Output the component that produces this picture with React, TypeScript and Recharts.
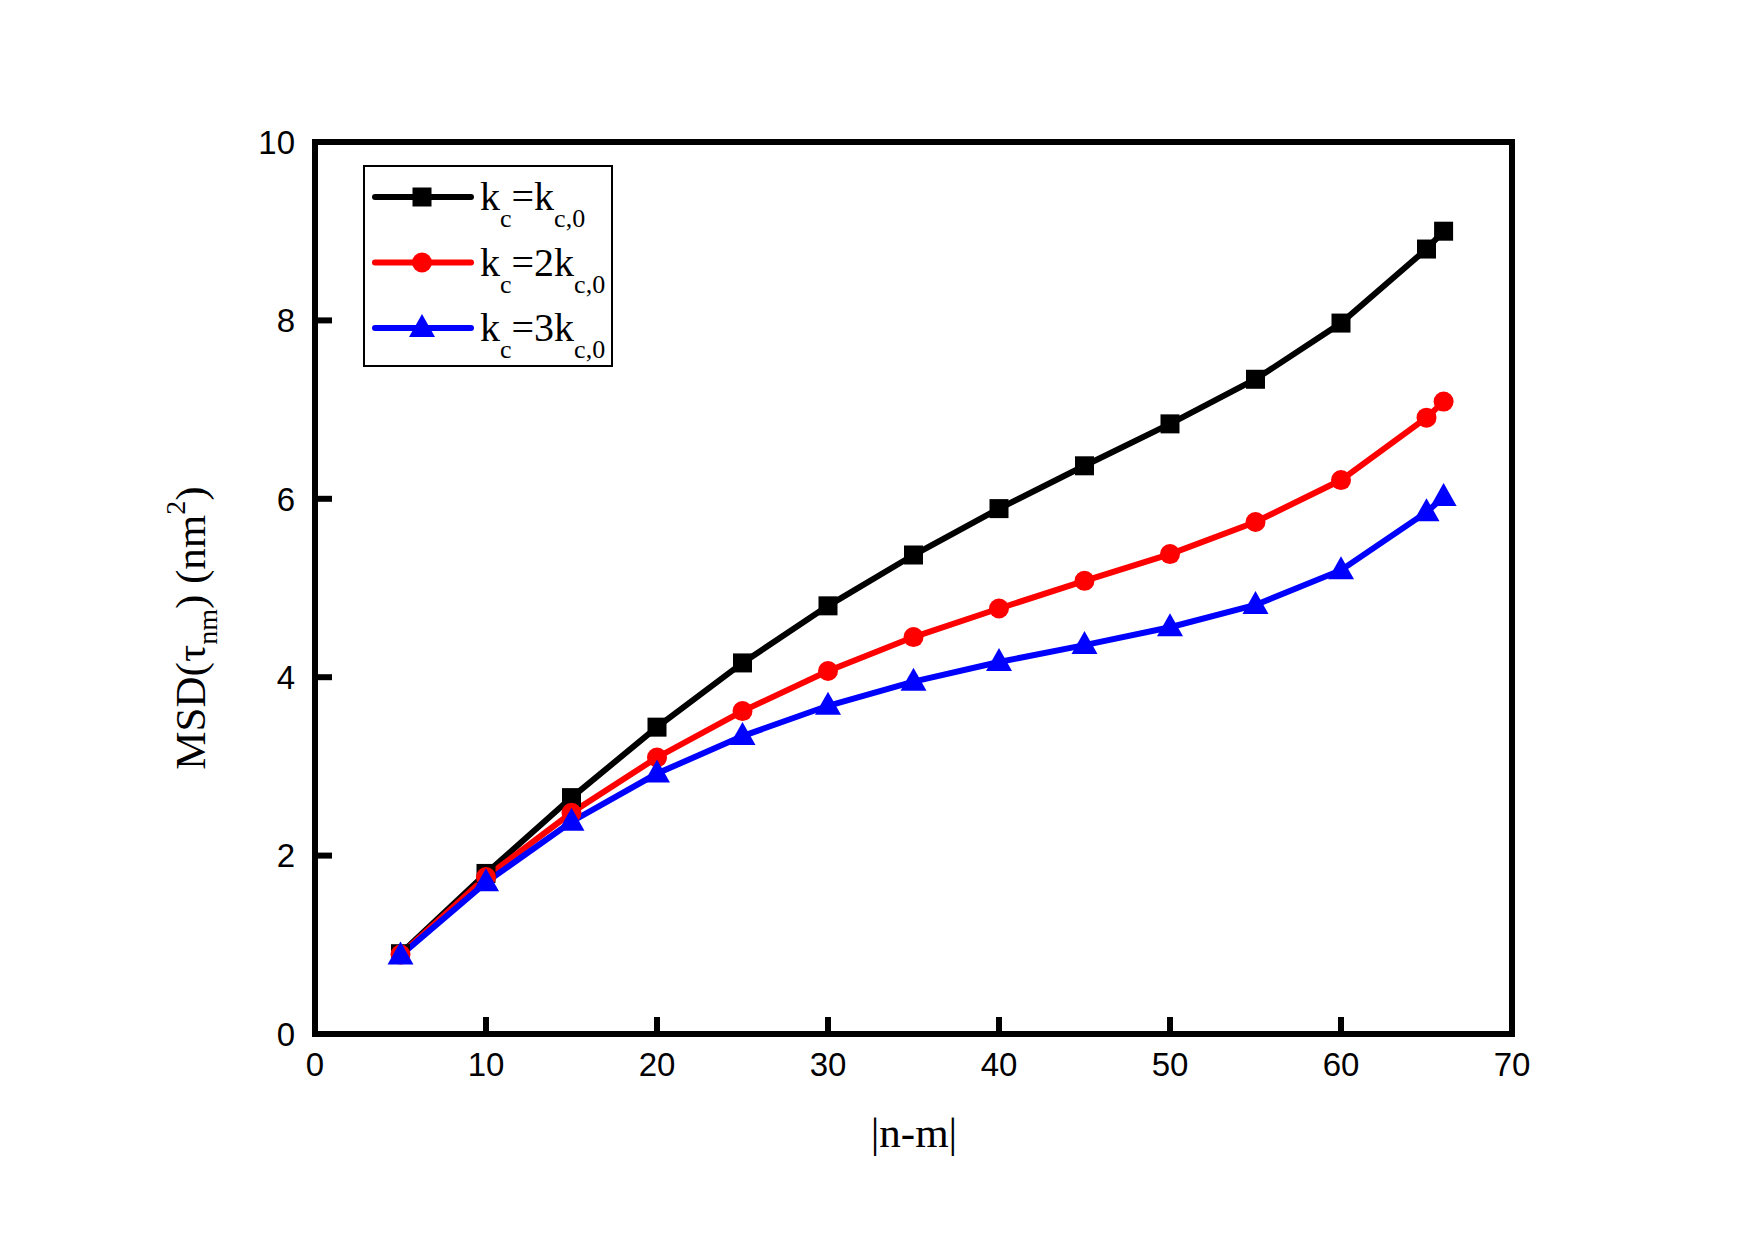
import React from "react";
import { LineChart, Line, XAxis, YAxis, ReferenceArea, Legend } from "recharts";

// |n-m| values and MSD readings for the three bending stiffnesses
const nmDiff = [5, 10, 15, 20, 25, 30, 35, 40, 45, 50, 55, 60, 65, 66];
const msdK1 = [0.9, 1.8, 2.65, 3.44, 4.16, 4.8, 5.37, 5.89, 6.37, 6.84, 7.34, 7.97, 8.8, 9.0];
const msdK2 = [0.89, 1.76, 2.48, 3.1, 3.62, 4.07, 4.45, 4.77, 5.08, 5.38, 5.74, 6.21, 6.91, 7.09];
const msdK3 = [0.88, 1.7, 2.38, 2.92, 3.34, 3.68, 3.95, 4.17, 4.36, 4.56, 4.81, 5.2, 5.85, 6.02];

const xTicks = [0, 10, 20, 30, 40, 50, 60, 70];
const yTicks = [0, 2, 4, 6, 8, 10];
const seriesOrder = ["k1", "k2", "k3"];
const coefs: Record<string, string> = { k1: "", k2: "2", k3: "3" };

const data = nmDiff.map((x, i) => ({ x, k1: msdK1[i], k2: msdK2[i], k3: msdK3[i] }));

const SERIF = "'Liberation Serif', 'Times New Roman', serif";
const SANS = "'Liberation Sans', Arial, sans-serif";

function Marker({ kind, cx, cy, color }: { kind: string; cx: number; cy: number; color: string }) {
  if (kind === "k1") return <rect x={cx - 9.5} y={cy - 9.5} width={19} height={19} fill={color} />;
  if (kind === "k2") return <circle cx={cx} cy={cy} r={10} fill={color} />;
  return <polygon points={`${cx},${cy - 14} ${cx - 13},${cy + 9} ${cx + 13},${cy + 9}`} fill={color} />;
}

const makeDot = (kind: string, color: string) => (props: any) => {
  const { cx, cy, index } = props;
  if (cx == null || cy == null) return <g key={index} />;
  return <Marker key={index} kind={kind} cx={cx} cy={cy} color={color} />;
};

const LegendBox = (props: any) => {
  const items = [...(props.payload || [])].sort(
    (a: any, b: any) => seriesOrder.indexOf(a.dataKey) - seriesOrder.indexOf(b.dataKey)
  );
  return (
    <svg width={250} height={202} style={{ display: "block" }}>
      <rect x={1} y={1} width={248} height={200} fill="#fff" stroke="#000" strokeWidth={2} />
      {items.map((it: any, i: number) => {
        const y = 32 + i * 65.5;
        const key = it.dataKey as string;
        return (
          <g key={key}>
            <line x1={12} x2={108} y1={y} y2={y} stroke={it.color} strokeWidth={6} strokeLinecap="round" />
            <Marker kind={key} cx={59} cy={y} color={it.color} />
            <text x={117} y={y + 13} fontFamily={SERIF} fontSize={40} fill="#000">
              k
              <tspan fontSize={26} dy={17}>c</tspan>
              <tspan fontSize={40} dy={-17}>={coefs[key]}k</tspan>
              <tspan fontSize={26} dy={17}>c,0</tspan>
            </text>
          </g>
        );
      })}
    </svg>
  );
};

const YTitle = (props: any) => {
  const vb = props.viewBox || { x: 255, y: 142, height: 892 };
  const cx = vb.x - 50;
  const cy = vb.y + vb.height / 2 + 40;
  return (
    <text
      x={cx}
      y={cy}
      transform={`rotate(-90, ${cx}, ${cy})`}
      textAnchor="middle"
      fontFamily={SERIF}
      fontSize={43}
      fill="#000"
    >
      MSD(τ
      <tspan fontSize={28} dy={12}>nm</tspan>
      <tspan fontSize={43} dy={-12}>) (nm</tspan>
      <tspan fontSize={28} dy={-20}>2</tspan>
      <tspan fontSize={43} dy={20}>)</tspan>
    </text>
  );
};

const XTitle = (props: any) => {
  const vb = props.viewBox || { x: 315, y: 1034, width: 1197 };
  return (
    <text x={914} y={vb.y + 113} textAnchor="middle" fontFamily={SERIF} fontSize={43} fill="#000">
      |n-m|
    </text>
  );
};

export default function App() {
  const axisLine = { stroke: "#000", strokeWidth: 6 };
  const tick = { fill: "#000", fontSize: 33, fontFamily: SANS };
  return (
    <div style={{ position: "absolute", left: 0, top: 0, width: 1755, height: 1240, background: "#fff" }}>
      <LineChart
        width={1755}
        height={1240}
        data={data}
        margin={{ top: 142, right: 243, bottom: 146, left: 255 }}
      >
        <XAxis
          type="number"
          dataKey="x"
          domain={[0, 70]}
          ticks={xTicks}
          height={60}
          axisLine={axisLine}
          tickLine={axisLine}
          tickSize={-17}
          tickMargin={36}
          tick={tick}
          label={<XTitle />}
        />
        <YAxis
          type="number"
          domain={[0, 10]}
          ticks={yTicks}
          width={60}
          axisLine={axisLine}
          tickLine={axisLine}
          tickSize={-17}
          tickMargin={37}
          tick={tick}
          label={<YTitle />}
        />
        <ReferenceArea
          x1={0}
          x2={70}
          y1={0}
          y2={10}
          fill="none"
          fillOpacity={0}
          stroke="#000"
          strokeWidth={6}
          ifOverflow="visible"
        />
        <Legend
          layout="vertical"
          align="center"
          verticalAlign="middle"
          content={<LegendBox />}
          wrapperStyle={{ left: 363, top: 165, width: 250, height: 202 }}
        />
        <Line
          type="linear"
          dataKey="k1"
          name="kc=kc,0"
          stroke="#000000"
          strokeWidth={6}
          dot={makeDot("k1", "#000000")}
          activeDot={false}
          isAnimationActive={false}
        />
        <Line
          type="linear"
          dataKey="k2"
          name="kc=2kc,0"
          stroke="#ff0000"
          strokeWidth={6}
          dot={makeDot("k2", "#ff0000")}
          activeDot={false}
          isAnimationActive={false}
        />
        <Line
          type="linear"
          dataKey="k3"
          name="kc=3kc,0"
          stroke="#0000ff"
          strokeWidth={6}
          dot={makeDot("k3", "#0000ff")}
          activeDot={false}
          isAnimationActive={false}
        />
      </LineChart>
    </div>
  );
}
